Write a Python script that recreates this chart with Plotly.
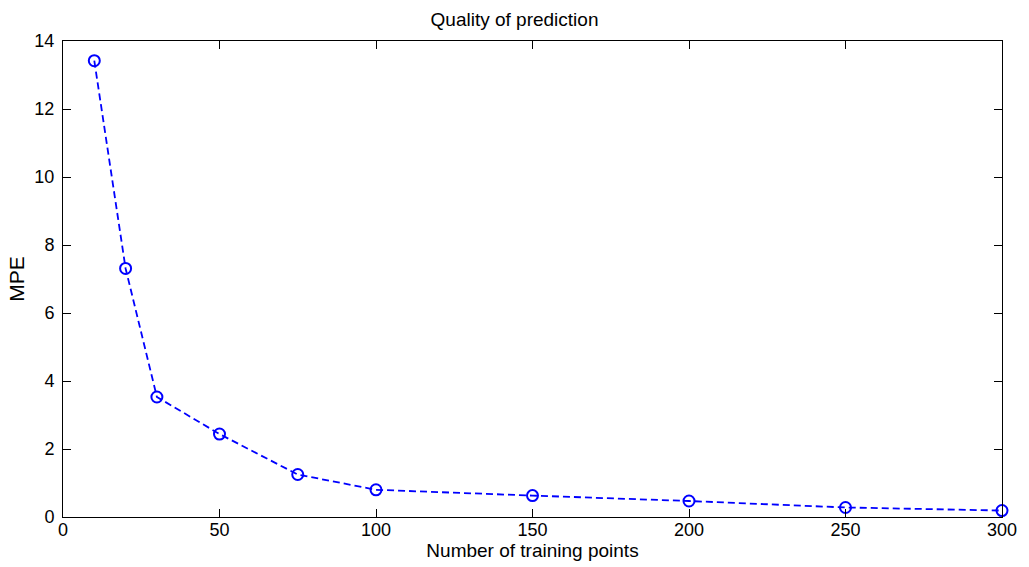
import plotly.graph_objects as go

# Training set sizes and mean percentage error
n_points = [10, 20, 30, 50, 75, 100, 150, 200, 250, 300]
mpe = [13.42, 7.31, 3.53, 2.44, 1.25, 0.80, 0.63, 0.47, 0.28, 0.19]

x_ticks = [0, 50, 100, 150, 200, 250, 300]
y_ticks = [0, 2, 4, 6, 8, 10, 12, 14]

FONT = "Liberation Sans, Arial, Helvetica, sans-serif"

fig = go.Figure(
    go.Scatter(
        x=n_points,
        y=mpe,
        mode="lines+markers",
        line=dict(color="#0000ff", width=1.8, dash="7px,4px"),
        marker=dict(symbol="circle-open", size=11, color="#0000ff",
                    line=dict(width=2, color="#0000ff")),
        cliponaxis=False,
        showlegend=False,
    )
)

axis_common = dict(
    showline=True,
    linecolor="black",
    linewidth=1,
    mirror="ticks",
    ticks="inside",
    ticklen=8,
    tickwidth=1,
    tickcolor="black",
    showgrid=False,
    zeroline=False,
    tickfont=dict(family=FONT, size=18, color="black"),
)

fig.update_xaxes(
    range=[0, 300],
    tickvals=x_ticks,
    ticklabelstandoff=-4,
    title=dict(text="Number of training points",
               font=dict(family=FONT, size=19, color="black"), standoff=0),
    **axis_common,
)
fig.update_yaxes(
    range=[0, 14],
    tickvals=y_ticks,
    ticklabelstandoff=4,
    title=dict(text="MPE", font=dict(family=FONT, size=21, color="black"),
               standoff=4),
    **axis_common,
)

fig.update_layout(
    width=1029,
    height=567,
    margin=dict(l=63, r=21, t=41, b=50),
    paper_bgcolor="white",
    plot_bgcolor="white",
    title=dict(text="Quality of prediction", x=0.5, xanchor="center",
               y=1 - 19 / 567, yanchor="middle",
               font=dict(family=FONT, size=19, color="black")),
)

fig.write_html("out.html")
